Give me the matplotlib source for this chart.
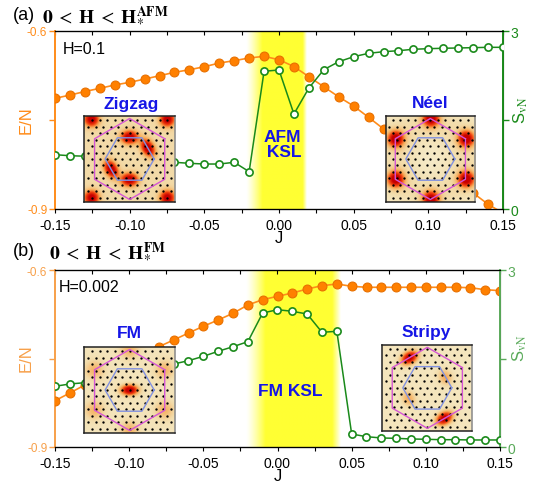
import numpy as np
import matplotlib
matplotlib.use('Agg')
import matplotlib.pyplot as plt
from matplotlib.colors import LinearSegmentedColormap

plt.rcParams['font.family'] = ['Liberation Sans', 'DejaVu Sans']
plt.rcParams['mathtext.fontset'] = 'stix'
plt.rcParams['axes.unicode_minus'] = False

# ---------------- data ----------------
J = [-0.15, -0.14, -0.13, -0.12, -0.11, -0.10, -0.09, -0.08, -0.07, -0.06, -0.05,
     -0.04, -0.03, -0.02, -0.01, 0.00, 0.01, 0.02, 0.03, 0.04, 0.05, 0.06, 0.07,
     0.08, 0.09, 0.10, 0.11, 0.12, 0.13, 0.14, 0.15]

E_a = [-0.7135, -0.708, -0.702, -0.6966, -0.691, -0.6865, -0.681, -0.6754, -0.6696,
       -0.6653, -0.6602, -0.654, -0.650, -0.6455, -0.6427, -0.6484, -0.660, -0.677,
       -0.694, -0.711, -0.7265, -0.7455, -0.765, -0.785, -0.804, -0.821, -0.839,
       -0.856, -0.873, -0.892, -0.907]
S_a = [0.915, 0.898, 0.89, 0.875, 0.86, 0.845, 0.83, 0.81, 0.787, 0.770, 0.758,
       0.758, 0.787, 0.629, 2.321, 2.343, 1.601, 2.039, 2.348, 2.483, 2.567, 2.624,
       2.651, 2.668, 2.692, 2.702, 2.709, 2.714, 2.719, 2.725, 2.725]

E_b = [-0.8215, -0.8085, -0.795, -0.782, -0.769, -0.756, -0.743, -0.730, -0.7186,
       -0.7068, -0.6954, -0.6847, -0.6734, -0.6593, -0.6503, -0.6446, -0.639, -0.6322,
       -0.6266, -0.6237, -0.6276, -0.6293, -0.6293, -0.6293, -0.6293, -0.6293, -0.6293,
       -0.6293, -0.6300, -0.6334, -0.635]
S_b = [1.029, 1.068, 1.09, 1.12, 1.16, 1.21, 1.27, 1.34, 1.407, 1.463, 1.537, 1.622,
       1.700, 1.785, 2.271, 2.327, 2.300, 2.254, 1.944, 1.961, 0.220, 0.175, 0.153,
       0.147, 0.136, 0.131, 0.124, 0.124, 0.119, 0.119, 0.119]

# KSL (yellow) windows: (solid start, solid end, left fade, right fade)
ksl_a = (-0.011, 0.0160, 0.011, 0.0028)
ksl_b = (-0.008, 0.0370, 0.013, 0.0058)

xticks = [-0.15, -0.10, -0.05, 0.00, 0.05, 0.10, 0.15]
xticklabels = ['-0.15', '-0.10', '-0.05', '0.00', '0.05', '0.10', '0.15']
xminor = [-0.125, -0.075, -0.025, 0.025, 0.075, 0.125]

# inset structure-factor peaks: (radius in units of outer BZ radius, angle deg, amplitude, sig_t, sig_r)
R_OUT = 40.5   # outer (magenta) hexagon radius, inset px
R_IN = 24.5    # inner (blue) hexagon radius
peaks_zigzag = [(0.524, 30, 1.0, 6.0, 4.0), (0.524, 90, 1.0, 5.5, 4.3),
                (0.524, 210, 1.0, 6.0, 4.0), (0.524, 270, 1.0, 5.5, 4.3),
                (1.35, 46, 0.95, 4.8, 4.8), (1.35, 134, 0.95, 4.8, 4.8),
                (1.35, 226, 0.95, 4.8, 4.8), (1.35, 314, 0.95, 4.8, 4.8)]
peaks_neel = [(1.0, a, 1.0, 5.2, 5.2) for a in (30, 90, 150, 210, 270, 330)]
halo_neel = [(1.0, a, 0.17, 15, 15) for a in (30, 90, 150, 210, 270, 330)]
peaks_fm = [(0.0, 0, 1.05, 3.4, 5.6)] + [(1.0, a, 0.25, 6.5, 6.5) for a in (30, 90, 150, 210, 270, 330)]
peaks_stripy = [(0.866, 120, 1.0, 5.8, 4.0), (0.866, 300, 1.0, 5.8, 4.0),
                (0.524, 30, 0.30, 5.5, 4.5), (0.524, 210, 0.30, 5.5, 4.5)]

# ---------------- styles ----------------
ORANGE = '#ff8c1a'
ORANGE_B = '#f7a04a'
GREEN = '#1a8a1a'
GREEN_B = '#5aaa5a'
BLUE = '#1515e6'

W, H = 541, 485
fig = plt.figure(figsize=(W / 100, H / 100), dpi=100)


def fx(px):
    return px / W


def fy(py):
    return 1 - py / H


heat_cmap = LinearSegmentedColormap.from_list(
    'heat', [(0.0, '#f8f4da'), (0.18, '#f2dcab'), (0.40, '#f6ae5c'),
             (0.66, '#f2440e'), (1.0, '#c80000')])


def yellow_band(ax, win, ylo, yhi):
    s0, s1, fl, fr = win
    x0, x1 = s0 - fl, s1 + fr
    xs = np.linspace(x0, x1, 400)
    alpha = np.ones_like(xs)
    left = xs < s0
    alpha[left] = ((xs[left] - x0) / fl) ** 1.3
    right = xs > s1
    alpha[right] = 1 - (xs[right] - s1) / fr
    rgba = np.zeros((2, xs.size, 4))
    rgba[..., 0] = 1.0
    rgba[..., 1] = 1.0
    rgba[..., 2] = 0.2
    rgba[..., 3] = np.clip(alpha, 0, 1)
    ax.imshow(rgba, extent=[x0, x1, ylo, yhi], aspect='auto', zorder=0,
              interpolation='bilinear')


def make_panel(rect, E, S, win, lcol, rcol):
    ax = fig.add_axes(rect)
    yellow_band(ax, win, -0.9, -0.6)
    ax.plot(J, E, '-o', color=ORANGE, lw=1.2, ms=6.4, mfc='#ff8000',
            mec='#e87000', mew=0.8, zorder=3)
    ax.set_xlim(-0.15, 0.15)
    ax.set_ylim(-0.9, -0.6)
    ax.set_xticks(xticks)
    ax.set_xticklabels(xticklabels, fontsize=10)
    ax.set_xticks(xminor, minor=True)
    ax.tick_params(axis='x', which='both', direction='out', length=3.2, width=0.8,
                   pad=3, top=False)
    ax.set_yticks([-0.9, -0.75, -0.6])
    ax.set_yticklabels(['-0.9', '', '-0.6'], fontsize=8.5, color=lcol)
    ax.tick_params(axis='y', direction='out', length=4, width=1, color=lcol, pad=1.5)
    ax.spines['left'].set_color(lcol)
    ax.spines['left'].set_linewidth(1.4)
    ax.spines['top'].set_linewidth(0.9)
    ax.spines['bottom'].set_linewidth(0.9)
    ax.set_xlabel('J', fontsize=12, labelpad=-1)

    # top inward ticks
    top = ax.secondary_xaxis('top')
    top.set_xticks(xticks + xminor)
    top.set_xticklabels([])
    top.tick_params(direction='in', length=3.2, width=0.8)
    top.spines['top'].set_visible(False)

    ax2 = ax.twinx()
    ax2.plot(J, S, '-o', color=GREEN, lw=1.1, ms=5.2, mfc='white', mec=GREEN,
             mew=1.2, zorder=3)
    ax2.set_ylim(0, 3)
    ax2.set_yticks([0, 1.5, 3])
    ax2.set_yticklabels(['0', '', '3'], fontsize=10, color=rcol)
    ax2.tick_params(axis='y', direction='out', length=4, width=1, color=rcol, pad=1.5)
    ax2.spines['right'].set_color(rcol)
    ax2.spines['right'].set_linewidth(1.4)
    ax2.spines['left'].set_visible(False)
    return ax, ax2


def hexagon(r, start):
    ang = np.deg2rad(np.arange(start, start + 361, 60))
    return r * np.cos(ang), r * np.sin(ang)


def make_inset(px_rect, peaks, base, halos=()):
    x0, y0, x1, y1 = px_rect
    w, h = x1 - x0, y1 - y0
    ax = fig.add_axes([fx(x0), fy(y1), w / W, h / H])
    xs = np.linspace(-w / 2, w / 2, 180)
    ys = np.linspace(-h / 2, h / 2, 180)
    X, Y = np.meshgrid(xs, ys)
    I = np.full_like(X, base)
    for (r, a, amp, st, sr) in list(peaks) + list(halos):
        th = np.deg2rad(a)
        cx, cy = r * R_OUT * np.cos(th), r * R_OUT * np.sin(th)
        dx, dy = X - cx, Y - cy
        rad = dx * np.cos(th) + dy * np.sin(th)
        tan = -dx * np.sin(th) + dy * np.cos(th)
        I = I + amp * np.exp(-0.5 * ((tan / st) ** 2 + (rad / sr) ** 2))
    ax.imshow(np.clip(I, 0, 1), extent=[-w / 2, w / 2, -h / 2, h / 2], origin='lower',
              cmap=heat_cmap, vmin=0, vmax=1, aspect='auto', interpolation='bilinear')
    # momentum grid dots (triangular lattice)
    a = 7.5
    pts = []
    for j in range(-10, 11):
        for i in range(-14, 15):
            px = a * (i + 0.5 * (j % 2))
            py = a * np.sqrt(3) / 2 * j
            if abs(px) < w / 2 - 1.5 and abs(py) < h / 2 - 1.5:
                pts.append((px, py))
    pts = np.array(pts)
    ax.plot(pts[:, 0], pts[:, 1], 'o', ms=1.7, color='black', mew=0)
    hx, hy = hexagon(R_OUT, 30)
    ax.plot(hx, hy, color='#d555d5', lw=1.0)
    hx, hy = hexagon(R_IN, 0)
    ax.plot(hx, hy, color='#8090e0', lw=1.0)
    ax.set_xlim(-w / 2, w / 2)
    ax.set_ylim(-h / 2, h / 2)
    ax.set_xticks([])
    ax.set_yticks([])
    for sp in ax.spines.values():
        sp.set_linewidth(1.1)
        sp.set_color('#222222')
    ax.spines['right'].set_color('#888888')
    return ax


# panel (a)
make_panel([fx(55), fy(210), 448 / W, 178 / H], E_a, S_a, ksl_a, ORANGE, GREEN)
# panel (b)
make_panel([fx(55), fy(448), 445 / W, 177 / H], E_b, S_b, ksl_b, ORANGE_B, GREEN_B)

# insets
make_inset((84.3, 116.7, 175, 203.3), peaks_zigzag, 0.19)
make_inset((385.7, 117, 475, 203), peaks_neel, 0.05, halo_neel)
make_inset((84.3, 348, 175, 434), peaks_fm, 0.12)
make_inset((382.3, 346, 472.3, 431.7), peaks_stripy, 0.11)

# labels
fig.text(fx(13), fy(15), '(a)', fontsize=13, ha='left', va='center')
fig.text(fx(42), fy(15),
         r'$\mathbf{0}\;<\;\mathbf{H}\;<\;\mathbf{H}_{*}^{\mathbf{AFM}}$',
         fontsize=14, ha='left', va='center')
fig.text(fx(13), fy(251), '(b)', fontsize=13, ha='left', va='center')
fig.text(fx(49), fy(251),
         r'$\mathbf{0}\;<\;\mathbf{H}\;<\;\mathbf{H}_{*}^{\mathbf{FM}}$',
         fontsize=14, ha='left', va='center')

fig.text(fx(63), fy(49), 'H=0.1', fontsize=11.5, ha='left', va='center')
fig.text(fx(59), fy(288), 'H=0.002', fontsize=11.5, ha='left', va='center')

bold = dict(fontsize=12.5, fontweight='bold', color=BLUE, ha='center', va='center')
fig.text(fx(131.5), fy(104), 'Zigzag', **bold)
fig.text(fx(430), fy(104), 'Néel', **bold)
fig.text(fx(282), fy(145), 'AFM\n KSL', linespacing=1.05, multialignment='center', **bold)
fig.text(fx(129), fy(334), 'FM', **bold)
fig.text(fx(426), fy(333), 'Stripy', **bold)
fig.text(fx(290), fy(392), 'FM KSL', **bold)

fig.text(fx(26), fy(120), 'E/N', fontsize=12, color=ORANGE, rotation=90,
         ha='center', va='center')
fig.text(fx(26), fy(358), 'E/N', fontsize=12, color=ORANGE_B, rotation=90,
         ha='center', va='center')
fig.text(fx(521), fy(110), r'S$_{\mathrm{vN}}$', fontsize=12, color=GREEN, rotation=90,
         ha='center', va='center')
fig.text(fx(520), fy(348), r'S$_{\mathrm{vN}}$', fontsize=12, color=GREEN_B, rotation=90,
         ha='center', va='center')

fig.savefig('out.png', dpi=100)
